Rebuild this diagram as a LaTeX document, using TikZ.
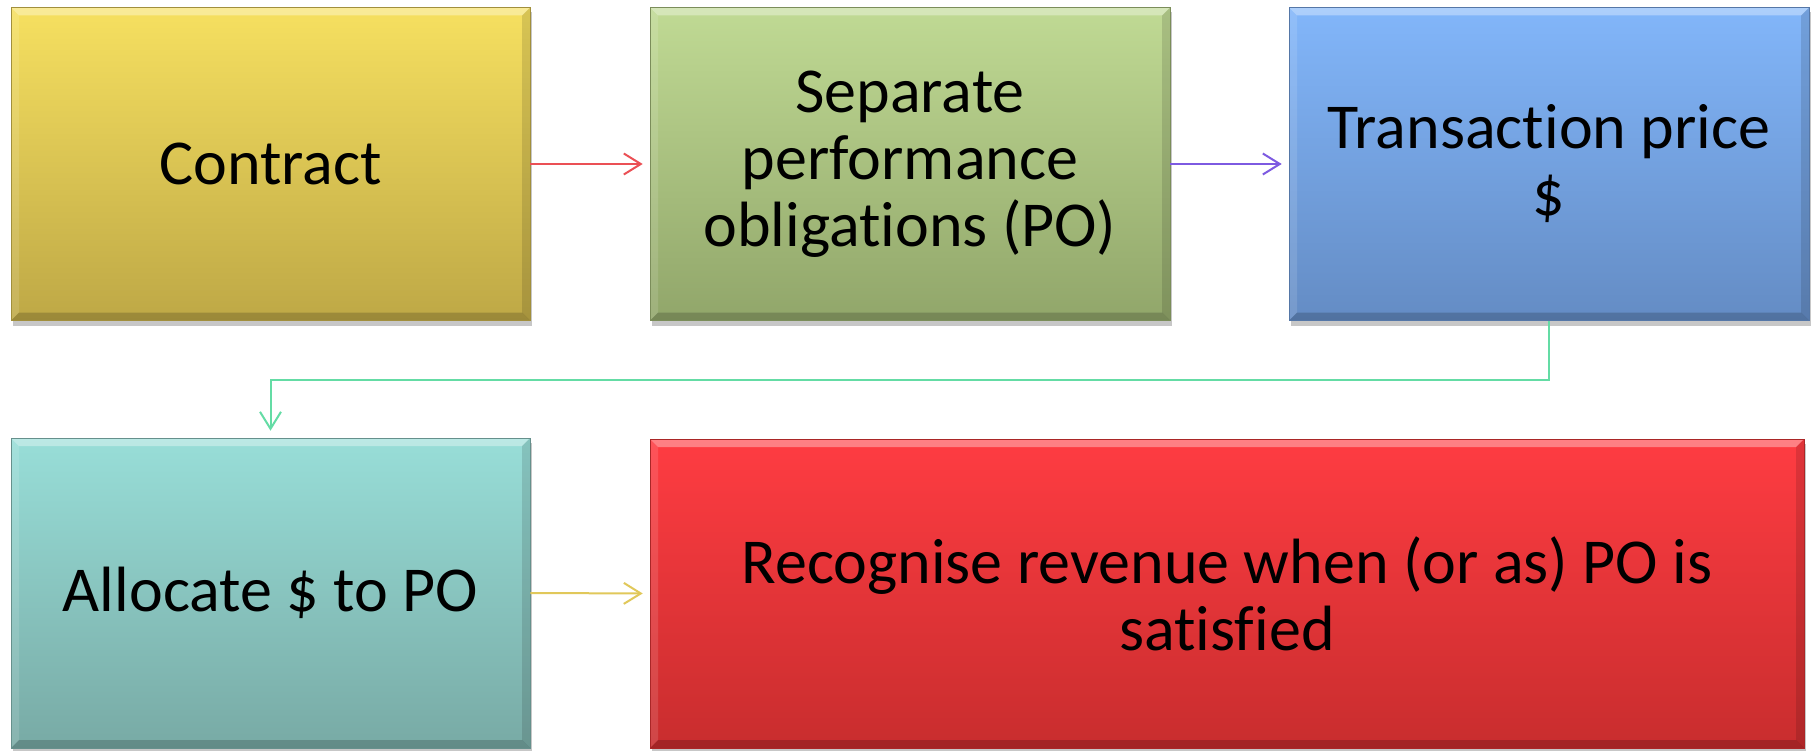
\documentclass[tikz,border=0pt]{standalone}
\usepackage{fontspec}
\setmainfont{Carlito}[Ligatures=NoCommon]
\usetikzlibrary{arrows.meta,shadows}
\definecolor{ytop}{RGB}{246,224,96}
\definecolor{ybot}{RGB}{190,168,70}
\definecolor{gtop}{RGB}{192,218,148}
\definecolor{gbot}{RGB}{145,166,106}
\definecolor{btop}{RGB}{130,182,250}
\definecolor{bbot}{RGB}{100,140,196}
\definecolor{ttop}{RGB}{152,222,216}
\definecolor{tbot}{RGB}{120,170,165}
\definecolor{rtop}{RGB}{255,60,66}
\definecolor{rbot}{RGB}{200,45,46}
\definecolor{redline}{RGB}{235,80,85}
\definecolor{purpleline}{RGB}{125,90,225}
\definecolor{mintline}{RGB}{100,220,165}
\definecolor{yellowline}{RGB}{225,200,90}
\begin{document}
\begin{tikzpicture}[x=1pt,y=-1pt,
  bevel/.style={path picture={
    \fill[white,opacity=.35] (path picture bounding box.north west) -- (path picture bounding box.north east)
      -- ([xshift=-8pt,yshift=-8pt]path picture bounding box.north east) -- ([xshift=8pt,yshift=-8pt]path picture bounding box.north west) -- cycle;
    \fill[white,opacity=.12] (path picture bounding box.north west) -- (path picture bounding box.south west)
      -- ([xshift=8pt,yshift=8pt]path picture bounding box.south west) -- ([xshift=8pt,yshift=-8pt]path picture bounding box.north west) -- cycle;
    \fill[black,opacity=.12] (path picture bounding box.north east) -- (path picture bounding box.south east)
      -- ([xshift=-8pt,yshift=8pt]path picture bounding box.south east) -- ([xshift=-8pt,yshift=-8pt]path picture bounding box.north east) -- cycle;
    \fill[black,opacity=.18] (path picture bounding box.south west) -- (path picture bounding box.south east)
      -- ([xshift=-8pt,yshift=8pt]path picture bounding box.south east) -- ([xshift=8pt,yshift=8pt]path picture bounding box.south west) -- cycle;
  }},
  box/.style 2 args={rectangle, inner sep=0pt, align=center,
    font=\fontsize{64}{67}\selectfont, text=black,
    top color=#1, bottom color=#2, draw=#2!85!black, line width=0.6pt,
    drop shadow={shadow xshift=1.5pt, shadow yshift=-5pt, opacity=.22, fill=black},
    bevel},
  conn/.style={line width=2pt, -{Straight Barb[length=17pt,width=21pt,line width=2pt]}, shorten >=7pt}
]
\fill[white] (0,0) rectangle (1814,751);
\useasboundingbox (0,0) rectangle (1814,751);

\node[box={ytop}{ybot}, minimum width=519pt, minimum height=313pt] (contract) at (270.5,164) {Contract};
\node[box={gtop}{gbot}, minimum width=520pt, minimum height=313pt] (sep) at (910,164) {Separate\\performance\\obligations (PO)};
\node[box={btop}{bbot}, minimum width=520pt, minimum height=313pt] (price) at (1549,164) {Transaction price\\\$};
\node[box={ttop}{tbot}, minimum width=519pt, minimum height=310pt] (alloc) at (270.5,593) {Allocate \$ to PO};
\node[box={rtop}{rbot}, minimum width=1154pt, minimum height=309pt] (recog) at (1227,593.5) {Recognise revenue when (or as) PO is\\satisfied};

\draw[conn, redline] (contract.east) -- (sep.west);
\draw[conn, purpleline] (sep.east) -- (price.west);
\draw[conn, mintline] (price.south) -- ++(0,59) -| (alloc.north);
\draw[conn, yellowline] (alloc.east) -- (recog.west);
\end{tikzpicture}
\end{document}
